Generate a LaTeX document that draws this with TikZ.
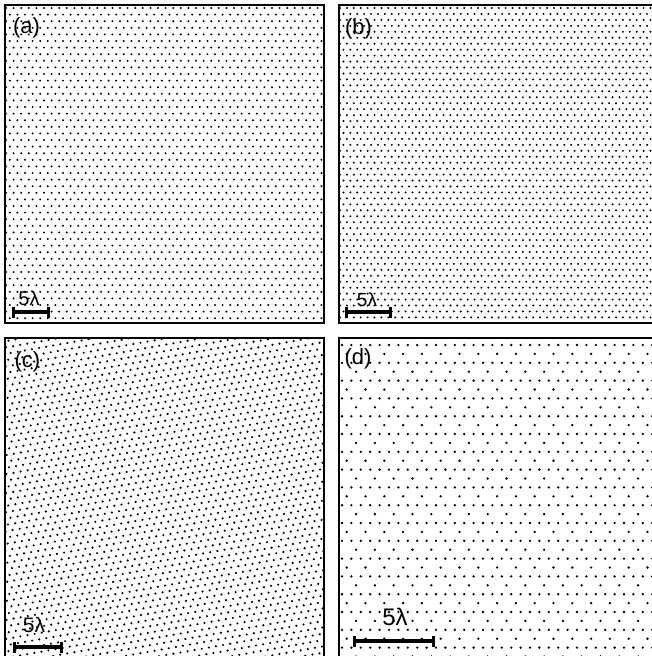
\documentclass[tikz,border=0pt]{standalone}
\usepackage{fontspec}
\setmainfont{Liberation Sans}
\usetikzlibrary{arrows.meta}

\begin{document}
\begin{tikzpicture}[
  x=1pt, y=-1pt,
  frame/.style    = {draw, line width=2.8pt},
  dotrow/.style   = {line width=2.2pt, line cap=round, dash pattern=on 0pt off #1},
  tag/.style      = {inner sep=0pt, font=\fontsize{22}{22}\selectfont},
  scalelbl/.style = {inner sep=0pt},
  scalebar/.style = {{Bar[width=11pt]}-{Bar[width=11pt]}, line width=3.2pt},
]
\useasboundingbox (0,0) rectangle (652,656);
\fill[white] (0,0) rectangle (652,656);
% panel (a): triangular lattice, wide spacing
\begin{scope}
  \clip (5,5) rectangle (324,323);
  \foreach \j in {0,...,24} {
    \draw[dotrow=7.6pt] (6,8+\j*13.2) -- (330,8+\j*13.2);
    \draw[dotrow=7.6pt] (9.8,14.6+\j*13.2) -- (330,14.6+\j*13.2);
  }
\end{scope}
% panel (b): triangular lattice
\begin{scope}
  \clip (339,5) rectangle (660,323);
  \foreach \j in {0,...,27} {
    \draw[dotrow=6.9pt] (340,8+\j*11.9) -- (660,8+\j*11.9);
    \draw[dotrow=6.9pt] (343.45,13.95+\j*11.9) -- (660,13.95+\j*11.9);
  }
\end{scope}
% panel (c): rotated triangular lattice
\begin{scope}
  \clip (5,338) rectangle (324,660);
  \begin{scope}[shift={(164,497)}, rotate=10]
    \foreach \j in {-16,...,16} {
      \draw[dotrow=7.2pt, line width=2.4pt] (-208.8,\j*12.48) -- (208.8,\j*12.48);
      \draw[dotrow=7.2pt, line width=2.4pt] (-205.2,6.24+\j*12.48) -- (208.8,6.24+\j*12.48);
    }
  \end{scope}
\end{scope}
% panel (d): kagome lattice
\begin{scope}
  \clip (339,338) rectangle (660,660);
  \foreach \j in {0,...,9} {
    \draw[dotrow=9.4pt, line width=2.6pt] (342,345+\j*35.6) -- (660,345+\j*35.6);
    \draw[dotrow=18.8pt, line width=2.6pt] (346.7,353.9+\j*35.6) -- (660,353.9+\j*35.6);
    \draw[dotrow=9.4pt, line width=2.6pt] (342,362.8+\j*35.6) -- (660,362.8+\j*35.6);
    \draw[dotrow=18.8pt, line width=2.6pt] (337.3,371.7+\j*35.6) -- (660,371.7+\j*35.6);
  }
\end{scope}
% frames
\draw[frame] (5,5) rectangle (324,323);
\draw[frame] (339,5) rectangle (662,323);
\draw[frame] (5,338) rectangle (324,664);
\draw[frame] (339,338) rectangle (662,664);
% panel tags
\node[tag] (taga) at (26.5,28) {(a)};
\node[tag] (tagb) at (358.5,29) {(b)};
\node[tag] (tagc) at (27.5,362) {(c)};
\node[tag] (tagd) at (358,359) {(d)};
% scale bars
\node[scalelbl, font=\fontsize{20}{20}\selectfont] (fivea) at (29,298) {5λ};
\coordinate (bara1) at (12,312);
\coordinate (bara2) at (50,312);
\draw[scalebar] (bara1) -- (bara2);
\node[scalelbl, font=\fontsize{19}{19}\selectfont] (fiveb) at (367,300) {5λ};
\coordinate (barb1) at (345,312);
\coordinate (barb2) at (392,312);
\draw[scalebar] (barb1) -- (barb2);
\node[scalelbl, font=\fontsize{21}{21}\selectfont] (fivec) at (34,625) {5λ};
\coordinate (barc1) at (13,647);
\coordinate (barc2) at (63,647);
\draw[scalebar] (barc1) -- (barc2);
\node[scalelbl, font=\fontsize{24}{24}\selectfont] (fived) at (395,617) {5λ};
\coordinate (bard1) at (353,641);
\coordinate (bard2) at (435,641);
\draw[scalebar] (bard1) -- (bard2);
\end{tikzpicture}
\end{document}
